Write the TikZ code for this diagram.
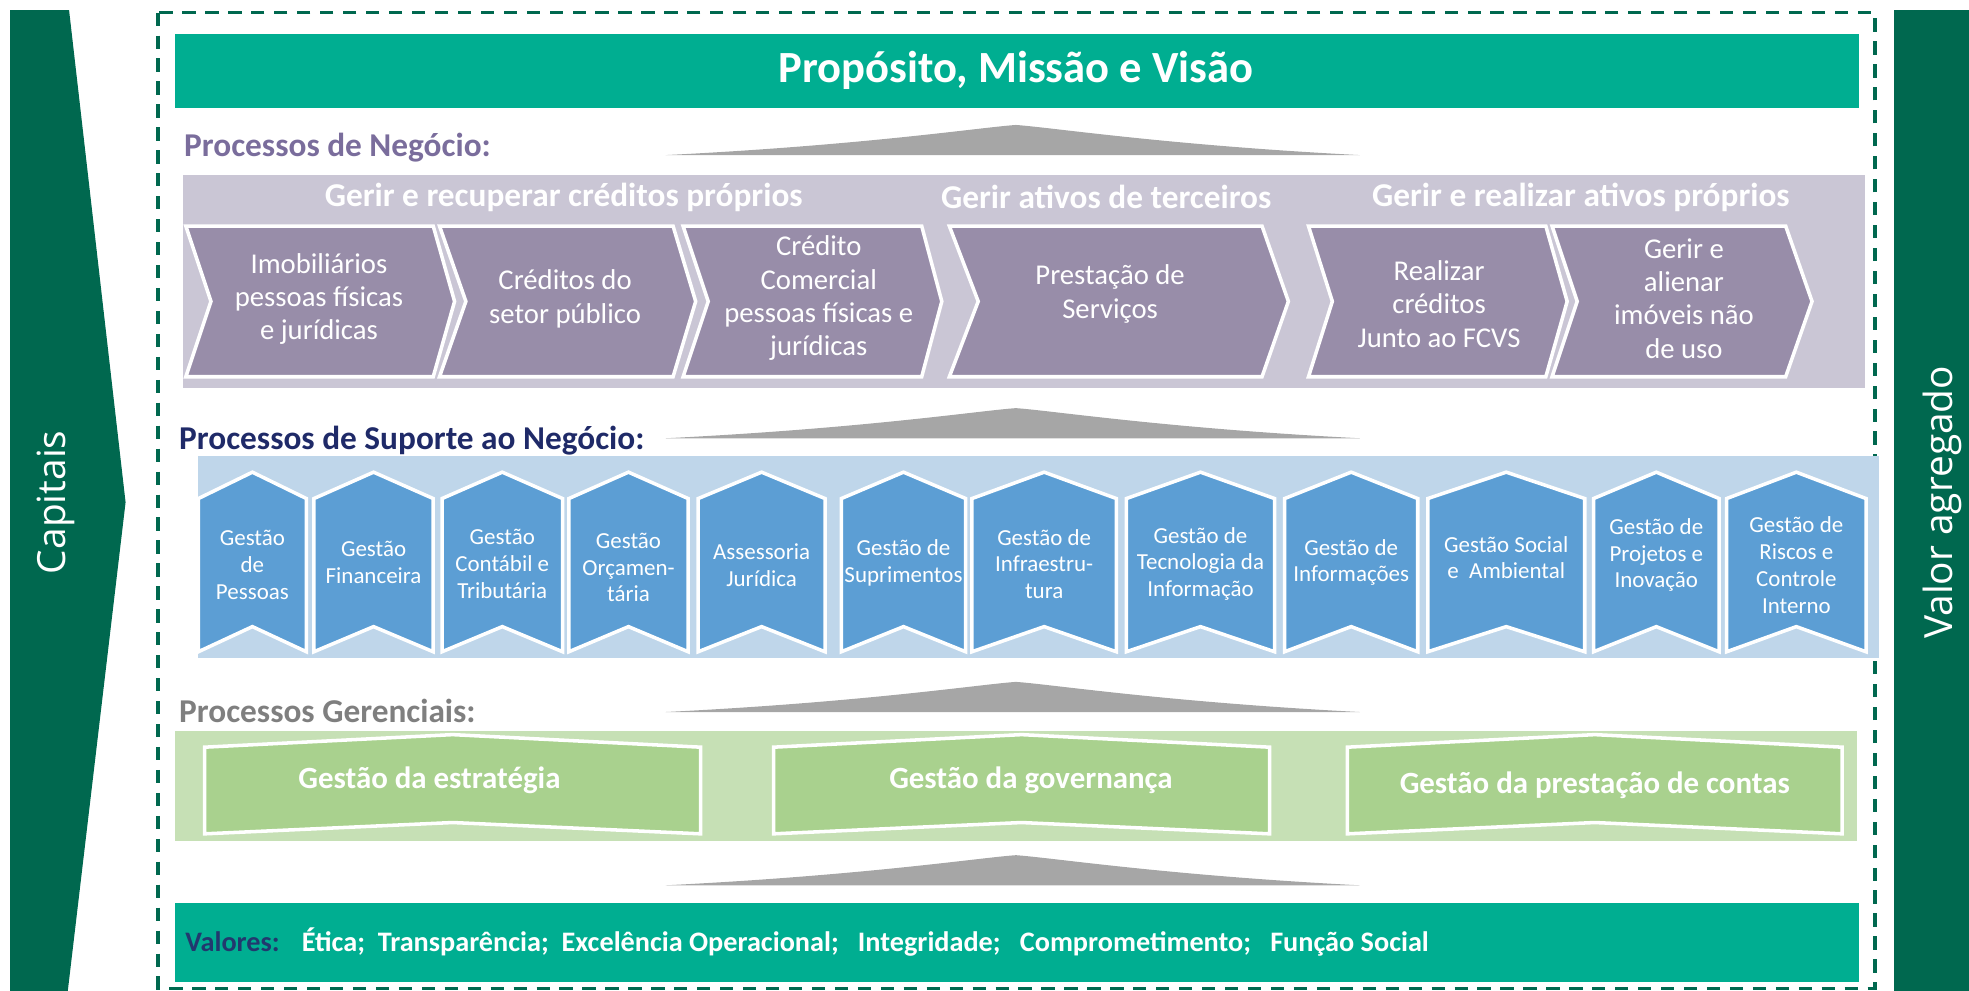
\documentclass[tikz,border=0pt]{standalone}
\usepackage{fontspec}
\setmainfont{Carlito}
\newfontfamily\osans{Open Sans}
\definecolor{sidegreen}{HTML}{00684F}
\definecolor{teal}{HTML}{00AE91}
\definecolor{purpleband}{HTML}{CAC6D5}
\definecolor{chevfill}{HTML}{988DA9}
\definecolor{purplehead}{HTML}{7A6D9C}
\definecolor{navyhead}{HTML}{1F2A68}
\definecolor{blueband}{HTML}{BFD6EA}
\definecolor{pentfill}{HTML}{5C9ED4}
\definecolor{grayhead}{HTML}{7F7F7F}
\definecolor{greenband}{HTML}{C6E0B5}
\definecolor{gfill}{HTML}{A9D18E}
\definecolor{roofgray}{HTML}{A6A6A6}
\definecolor{valnavy}{HTML}{22386E}
\begin{document}
\begin{tikzpicture}[x=0.1mm,y=-0.1mm,
  wtxt/.style={text=white, align=center, inner sep=0pt},
  chevtxt/.style={wtxt, font=\fontsize{6.5}{7.55}\selectfont},
  pentxt/.style={wtxt, font=\fontsize{5.2}{6.05}\selectfont},
  headtxt/.style={inner sep=0pt, anchor=base west, font=\bfseries\fontsize{7.55}{9}\selectfont},
  bandhead/.style={wtxt, font=\bfseries\fontsize{7.55}{9}\selectfont},
  greentxt/.style={wtxt, font=\bfseries\fontsize{7}{8.4}\selectfont},
  chev/.style={fill=chevfill, draw=white, line width=0.8pt},
  pent/.style={fill=pentfill, draw=white, line width=0.8pt},
  gshape/.style={fill=gfill, draw=white, line width=0.8pt},
  roof/.style={fill=roofgray},
  sidetxt/.style={text=white, inner sep=0pt, anchor=base, rotate=90, font=\osans\fontsize{8.8}{10}\selectfont}
]
\useasboundingbox (0,0) rectangle (1568,789);

% side panels
\fill[sidegreen] (8,8) -- (55,8) -- (100,400) -- (54,789) -- (8,789) -- cycle;
\node[sidetxt] (capitais) at (52,400) {Capitais};
\fill[sidegreen] (1508,8) rectangle (1568,789);
\node[sidetxt] (valor) at (1555,400) {Valor agregado};

% dashed frame
\draw[sidegreen, line width=0.8pt, dash pattern=on 3pt off 2.2pt] (126,10) rectangle (1493,787);

% title
\fill[teal] (139,27) rectangle (1480,86);
\node[wtxt, font=\bfseries\fontsize{10.1}{12}\selectfont] (title) at (809,56) {Propósito, Missão e Visão};

% roofs
\newcommand\myroof[2]{%
  \fill[roof] (530,#2) .. controls (690,#2-8) and (780,#1+2) .. (809,#1)
    .. controls (838,#1+2) and (928,#2-8) .. (1083,#2) -- cycle;}
\myroof{99.5}{123.5}
\myroof{325}{349}
\myroof{543}{567}
\myroof{681}{705}

% business processes
\node[headtxt, text=purplehead] (hneg) at (146,125) {Processos de Negócio:};
\fill[purpleband] (146,139) rectangle (1485,309);
\node[bandhead] (g1) at (449,157) {Gerir e recuperar créditos próprios};
\node[bandhead] (g2) at (881,157) {Gerir ativos de terceiros};
\node[bandhead] (g3) at (1259,157) {Gerir e realizar ativos próprios};

\newcommand\mychev[8]{% xl xn xr xt name textx texty text
  \filldraw[chev] (#1,180) -- (#3,180) -- (#4,240) -- (#3,300) -- (#1,300) -- (#2,240) -- cycle;
  \node[chevtxt] (#5) at (#6,#7) {#8};}
\mychev{148}{168}{345}{362}{c1}{254}{238}{Imobiliários\\pessoas físicas\\e jurídicas}
\mychev{350}{371}{536}{554}{c2}{450}{238}{Créditos do\\setor público}
\mychev{544}{564}{734}{750}{c3}{652}{237.5}{Crédito\\Comercial\\pessoas físicas e\\jurídicas}
\mychev{756}{779}{1005}{1026}{c4}{884}{234}{Prestação de\\Serviços}
\mychev{1042}{1061}{1231}{1248}{c5}{1146}{242}{Realizar\\créditos\\Junto ao FCVS}
\mychev{1236}{1256}{1422}{1443}{c6}{1341}{237.5}{Gerir e\\alienar\\imóveis não\\de uso}

% support processes
\node[headtxt, text=navyhead] (hsup) at (142,358) {Processos de Suporte ao Negócio:};
\fill[blueband] (158,363) rectangle (1496,524);
\newcommand\mypent[5]{% xl xr name texty text
  \filldraw[pent] (#1,397) -- ({(#1+#2)/2},376) -- (#2,397) -- (#2,519) -- ({(#1+#2)/2},499) -- (#1,519) -- cycle;
  \node[pentxt] (#3) at ({(#1+#2)/2},#4) {#5};}
\mypent{158}{244}{p1}{450}{Gestão\\de\\Pessoas}
\mypent{250}{345}{p2}{448}{Gestão\\Financeira}
\mypent{352}{448}{p3}{449}{Gestão\\Contábil e\\Tributária}
\mypent{453}{548}{p4}{452}{Gestão\\Orçamen-\\tária}
\mypent{556}{657}{p5}{450}{Assessoria\\Jurídica}
\mypent{670}{769}{p6}{448}{Gestão de\\Suprimentos}
\mypent{774}{889}{p7}{449}{Gestão de\\Infraestru-\\tura}
\mypent{897}{1015}{p8}{449}{Gestão de\\Tecnologia da\\Informação}
\mypent{1023}{1129}{p9}{448}{Gestão de\\Informações}
\mypent{1137}{1262}{p10}{444}{Gestão Social\\e~~Ambiental}
\mypent{1269}{1369}{p11}{442}{Gestão de\\Projetos e\\Inovação}
\mypent{1375}{1486}{p12}{450}{Gestão de\\Riscos e\\Controle\\Interno}

% management processes
\node[headtxt, text=grayhead] (hger) at (142,575) {Processos Gerenciais:};
\fill[greenband] (139,582) rectangle (1479,670);
\newcommand\mygreen[6]{% xl xr name textx texty text
  \filldraw[gshape] (#1,595) -- ({(#1+#2)/2},585) -- (#2,595) -- (#2,664) -- ({(#1+#2)/2},655) -- (#1,664) -- cycle;
  \node[greentxt] (#3) at (#4,#5) {#6};}
\mygreen{163}{558}{m1}{342}{621}{Gestão da estratégia}
\mygreen{616}{1011}{m2}{821}{621}{Gestão da governança}
\mygreen{1073}{1467}{m3}{1270}{625}{Gestão da prestação de contas}

% values
\fill[teal] (139,719) rectangle (1480,782);
\node[inner sep=0pt, anchor=base west, text=white, font=\bfseries\fontsize{6.4}{7.7}\selectfont] (valores) at (147,758)
  {{\color{valnavy}Valores:}\hspace{5pt}Ética;~~Transparência;~~Excelência Operacional;~~~Integridade;~~~Comprometimento;~~~Função Social};
\end{tikzpicture}
\end{document}
